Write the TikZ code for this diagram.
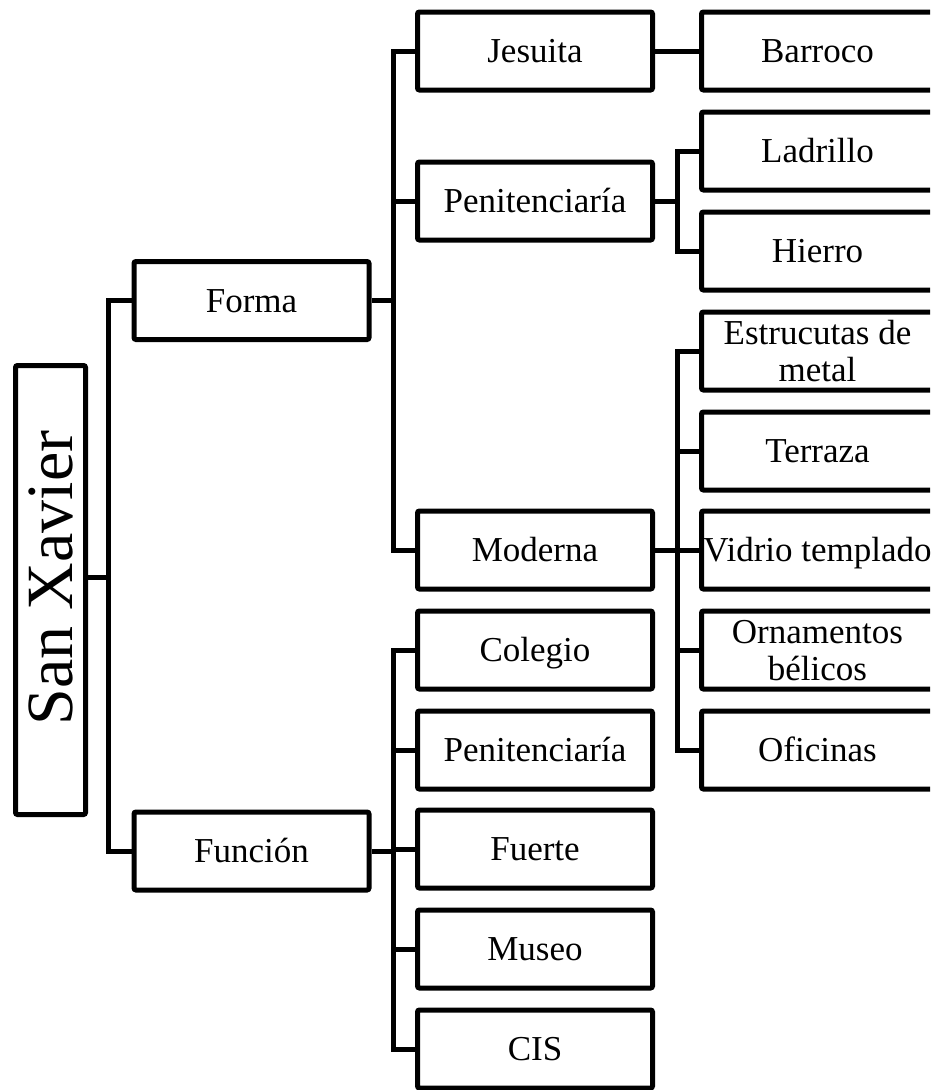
\documentclass[tikz,border=0pt]{standalone}
\usepackage{fontspec}
\setmainfont{Liberation Serif}
\begin{document}
\begin{tikzpicture}[x=1pt,y=-1pt,
  box/.style={draw=black, line width=5pt, rounded corners=2pt,
    minimum width=235pt, minimum height=78pt, inner sep=0pt, align=center,
    font=\fontsize{35}{37}\selectfont, text height=23pt, text depth=0pt},
  leaf/.style={box, minimum width=232pt},
  twoline/.style={text height=60pt},
  link/.style={draw=black, line width=5pt}]
\clip (0,0) rectangle (930,1090);

% root
\node[box, rotate=90, minimum width=449pt, minimum height=70pt,
      font=\fontsize{66}{70}\selectfont, text height=43.5pt] (root) at (50.5,590) {\hspace{24pt}San Xavier};

% first level
\node[box] (forma)  at (251.5,300.5) {Forma};
\node[box] (funcion) at (251.5,851) {Función};

% second level
\node[box] (jesuita) at (535,51)   {Jesuita};
\node[box] (penit)   at (535,201)  {Penitenciaría};
\node[box] (moderna) at (535,550)  {Moderna};
\node[box] (colegio) at (535,650)  {Colegio};
\node[box] (penitb)  at (535,750)  {Penitenciaría};
\node[box] (fuerte)  at (535,849)  {Fuerte};
\node[box] (museo)   at (535,949)  {Museo};
\node[box] (cis)     at (535,1049) {CIS};

% third level
\node[leaf] (barroco)  at (817.5,51)  {Barroco};
\node[leaf] (ladrillo) at (817.5,151) {Ladrillo};
\node[leaf] (hierro)   at (817.5,251) {Hierro};
\node[leaf, twoline] (estruc) at (817.5,351) {Estrucutas de\\metal};
\node[leaf] (terraza)  at (817.5,451) {Terraza};
\node[leaf] (vidrio)   at (817.5,550) {Vidrio templado};
\node[leaf, twoline] (ornam)  at (817.5,650) {Ornamentos\\bélicos};
\node[leaf] (oficinas) at (817.5,750) {Oficinas};

% junctions
\coordinate (j1) at (108,577);
\coordinate (j2) at (393,300.5);
\coordinate (j3) at (393,851);
\coordinate (j4) at (677,201);
\coordinate (j5) at (677,550);

% connectors
\draw[link] (root.south |- j1) -- (j1);
\draw[link] (j1) |- (forma.west);
\draw[link] (j1) |- (funcion.west);

\draw[link] (forma.east) -- (j2);
\draw[link] (j2) |- (jesuita.west);
\draw[link] (j2) |- (penit.west);
\draw[link] (j2) |- (moderna.west);

\draw[link] (funcion.east) -- (j3);
\draw[link] (j3) |- (colegio.west);
\draw[link] (j3) |- (penitb.west);
\draw[link] (j3) |- (fuerte.west);
\draw[link] (j3) |- (museo.west);
\draw[link] (j3) |- (cis.west);

\draw[link] (jesuita.east) -- (barroco.west);

\draw[link] (penit.east) -- (j4);
\draw[link] (j4) |- (ladrillo.west);
\draw[link] (j4) |- (hierro.west);

\draw[link] (moderna.east) -- (j5);
\draw[link] (j5) |- (estruc.west);
\draw[link] (j5) |- (terraza.west);
\draw[link] (j5) |- (vidrio.west);
\draw[link] (j5) |- (ornam.west);
\draw[link] (j5) |- (oficinas.west);
\end{tikzpicture}
\end{document}
